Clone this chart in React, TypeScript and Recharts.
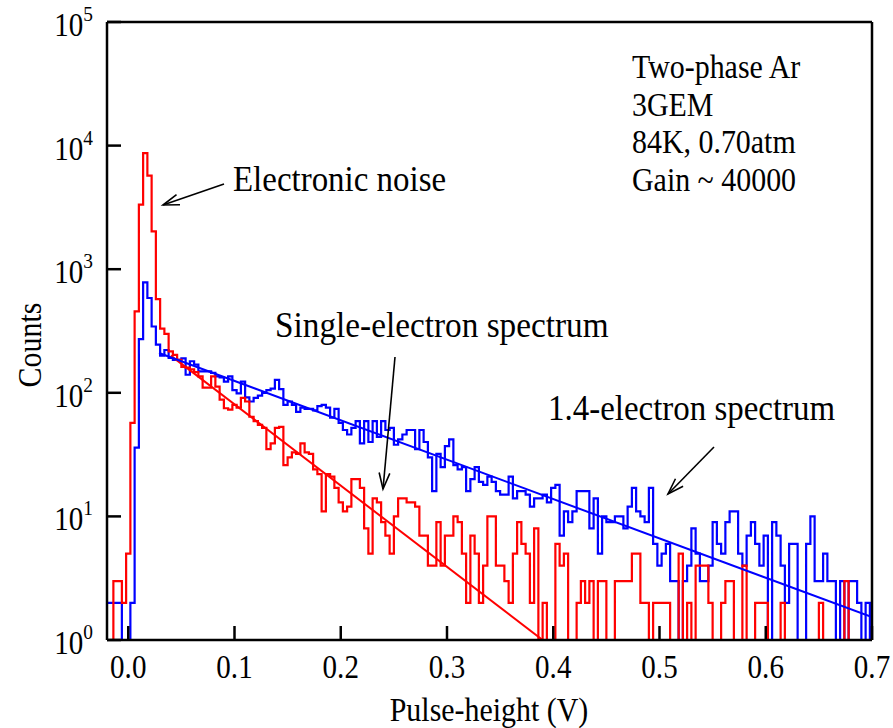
import { ComposedChart, Line, XAxis, YAxis } from 'recharts';

const FONT = '"Liberation Serif", "Times New Roman", serif';

// histogram binning (lower bin edges, volts)
const BIN_START = -0.022;
const BIN_WIDTH = 0.004;

// noise + single-electron run (red)
const redCounts = [
  1, 1, 3, 3, 2, 5, 57, 456, 3330, 8700,
  5710, 2020, 573, 331, 300, 216, 203, 185, 162, 160,
  155, 147, 136, 110, 110, 136, 112, 88, 75, 73,
  80, 76, 91, 85, 64, 59, 55, 52, 35, 39,
  52, 53, 26, 30, 33, 32, 39, 33, 32, 24,
  22, 11, 22, 21, 17, 13, 11, 12, 20, 20,
  17, 8, 5, 14, 13, 9, 7, 5, 10, 14,
  14, 13, 13, 12, 7, 7, 4, 4, 9, 4,
  7, 7, 10, 9, 5, 2, 7, 5, 2, 4,
  10, 10, 4, 4, 3, 2, 5, 9, 6, 5,
  2, 8, 1, 2, 1, 1, 6, 4, 5, 1,
  1, 2, 3, 2, 3, 1, 3, 3, 1, 1,
  3, 3, 3, 3, 5, 5, 2, 2, 1, 2,
  2, 2, 2, 1, 1, 5, 1, 2, 1, 4,
  4, 4, 2, 1, 1, 2, 3, 3, 1, 1,
  4, 1, 1, 2, 2, 2, 1, 1, 1, 2,
  1, 1, 1, 1, 1, 1, 1, 1, 2, 1,
  1, 1, 1, 1, 3, 1, 1, 1, 1, 1,
  1,
];

// 1.4-electron run (blue)
const blueCounts = [
  2, 2, 2, 2, 1, 1, 2, 36, 272, 783,
  585, 344, 245, 200, 222, 192, 185, 185, 190, 140,
  180, 169, 149, 149, 149, 145, 136, 133, 123, 136,
  105, 99, 123, 92, 85, 91, 95, 100, 105, 108,
  127, 107, 80, 85, 80, 70, 76, 74, 74, 72,
  78, 80, 76, 63, 74, 57, 50, 46, 52, 59,
  39, 59, 40, 59, 44, 59, 50, 52, 38, 42,
  46, 50, 50, 35, 50, 40, 30, 16, 32, 25,
  37, 42, 26, 24, 25, 16, 20, 25, 19, 18,
  21, 19, 16, 15, 15, 21, 14, 16, 16, 15,
  12, 14, 14, 15, 13, 17, 18, 7, 11, 9,
  11, 16, 16, 16, 8, 14, 5, 10, 9, 9,
  10, 10, 8, 12, 17, 11, 10, 9, 17, 6,
  4, 5, 6, 3, 3, 1, 3, 4, 8, 5,
  3, 3, 4, 9, 6, 5, 9, 11, 11, 5,
  4, 7, 9, 6, 4, 7, 1, 9, 7, 4,
  2, 6, 6, 1, 1, 6, 10, 3, 3, 5,
  3, 3, 1, 3, 1, 3, 3, 2, 1, 2,
  1,
];

// exponential fits (straight on log axis): endpoints
const redFit = [
  { x: 0.04, y: 200 },
  { x: 0.39, y: 1 },
];
const blueFit = [
  { x: 0.029, y: 210 },
  { x: 0.7, y: 1.53 },
];

const xTicks = [0, 0.1, 0.2, 0.3, 0.4, 0.5, 0.6, 0.7];
const yTicks = [1, 10, 100, 1000, 10000, 100000];

const infoLines = ['Two-phase Ar', '3GEM', '84K, 0.70atm', 'Gain ~ 40000'];

const histData = redCounts.map((r, i) => ({
  x: +(BIN_START + i * BIN_WIDTH).toFixed(3),
  red: r,
  blue: blueCounts[i],
}));
// close the last step
histData.push({
  x: +(BIN_START + redCounts.length * BIN_WIDTH).toFixed(3),
  red: redCounts[redCounts.length - 1],
  blue: blueCounts[blueCounts.length - 1],
});

// the original lettering is a bit narrow and tall
const SQUEEZE = 0.88;

const XTick = (props: any) => {
  const { x, y, payload } = props;
  return (
    <text
      transform={`translate(${x},${y + 38}) scale(${SQUEEZE},1)`}
      textAnchor="middle"
      fontFamily={FONT}
      fontSize={33}
      fill="#000"
    >
      {Number(payload.value).toFixed(1)}
    </text>
  );
};

const YTick = (props: any) => {
  const { x, y, payload } = props;
  const exp = Math.round(Math.log10(payload.value));
  return (
    <text
      transform={`translate(${x - 14},${y + 14}) scale(${SQUEEZE},1)`}
      textAnchor="end"
      fontFamily={FONT}
      fontSize={33}
      fill="#000"
    >
      <tspan>10</tspan>
      <tspan dy={-15} fontSize={22}>{exp}</tspan>
    </text>
  );
};

function Arrow({ x1, y1, x2, y2 }: { x1: number; y1: number; x2: number; y2: number }) {
  const ang = Math.atan2(y1 - y2, x1 - x2);
  const len = 17;
  const spread = 0.32;
  const a = [x2 + len * Math.cos(ang + spread), y2 + len * Math.sin(ang + spread)];
  const b = [x2 + len * Math.cos(ang - spread), y2 + len * Math.sin(ang - spread)];
  return (
    <g stroke="#000" strokeWidth={1.6} fill="none">
      <line x1={x1} y1={y1} x2={x2} y2={y2} />
      <polyline points={`${a[0]},${a[1]} ${x2},${y2} ${b[0]},${b[1]}`} />
    </g>
  );
}

function Label({ x, y, size, children, anchor, sx }: any) {
  return (
    <text
      transform={`translate(${x},${y}) scale(${sx || SQUEEZE},1)`}
      fontSize={size}
      textAnchor={anchor || 'start'}
    >
      {children}
    </text>
  );
}

export default function App() {
  const axisStyle = { stroke: '#000', strokeWidth: 2.5 };
  return (
    <div style={{ position: 'absolute', left: 0, top: 0, width: 893, height: 728, background: '#fff' }}>
      <ComposedChart width={893} height={728} margin={{ top: 21, right: 20, bottom: 28, left: 27 }}>
        <XAxis
          dataKey="x"
          type="number"
          domain={[-0.02, 0.7]}
          allowDataOverflow
          ticks={xTicks}
          interval={0}
          height={60}
          tickSize={-14}
          tickMargin={14}
          axisLine={axisStyle}
          tickLine={axisStyle}
          tick={<XTick />}
        />
        <XAxis
          xAxisId="top"
          orientation="top"
          type="number"
          domain={[-0.02, 0.7]}
          allowDataOverflow
          ticks={xTicks}
          interval={0}
          height={1}
          tickSize={-14}
          axisLine={axisStyle}
          tickLine={axisStyle}
          tick={false}
        />
        <YAxis
          scale="log"
          domain={[1, 100000]}
          allowDataOverflow
          ticks={yTicks}
          interval={0}
          width={80}
          tickSize={-14}
          tickMargin={14}
          axisLine={axisStyle}
          tickLine={axisStyle}
          tick={<YTick />}
        />
        <YAxis
          yAxisId="right"
          orientation="right"
          scale="log"
          domain={[1, 100000]}
          allowDataOverflow
          ticks={yTicks}
          interval={0}
          width={1}
          tickSize={-14}
          axisLine={axisStyle}
          tickLine={axisStyle}
          tick={false}
        />
        <Line
          data={histData}
          dataKey="blue"
          type="stepAfter"
          stroke="#0000ff"
          strokeWidth={2.2}
          dot={false}
          isAnimationActive={false}
        />
        <Line
          data={histData}
          dataKey="red"
          type="stepAfter"
          stroke="#ff0000"
          strokeWidth={2.2}
          dot={false}
          isAnimationActive={false}
        />
        <Line
          data={redFit}
          dataKey="y"
          type="linear"
          stroke="#ff0000"
          strokeWidth={2}
          dot={false}
          isAnimationActive={false}
        />
        <Line
          data={blueFit}
          dataKey="y"
          type="linear"
          stroke="#0000ff"
          strokeWidth={2}
          dot={false}
          isAnimationActive={false}
        />
      </ComposedChart>
      <svg
        width={893}
        height={728}
        style={{ position: 'absolute', left: 0, top: 0, pointerEvents: 'none' }}
        fontFamily={FONT}
        fill="#000"
      >
        {infoLines.map((t, i) => (
          <Label key={t} x={632} y={78 + i * 37.5} size={34}>
            {t}
          </Label>
        ))}
        <Label x={233} y={191} size={36} sx={0.915}>Electronic noise</Label>
        <Arrow x1={224} y1={184} x2={163} y2={205} />
        <Label x={275} y={337} size={36} sx={0.925}>Single-electron spectrum</Label>
        <Arrow x1={395} y1={357} x2={383} y2={489} />
        <Label x={548} y={420} size={36} sx={0.915}>1.4-electron spectrum</Label>
        <Arrow x1={714} y1={447} x2={668} y2={494} />
        <Label x={489} y={721} size={34} anchor="middle">Pulse-height (V)</Label>
        <text transform={`translate(41,345) rotate(-90) scale(${SQUEEZE},1)`} fontSize={34} textAnchor="middle">
          Counts
        </text>
      </svg>
    </div>
  );
}
